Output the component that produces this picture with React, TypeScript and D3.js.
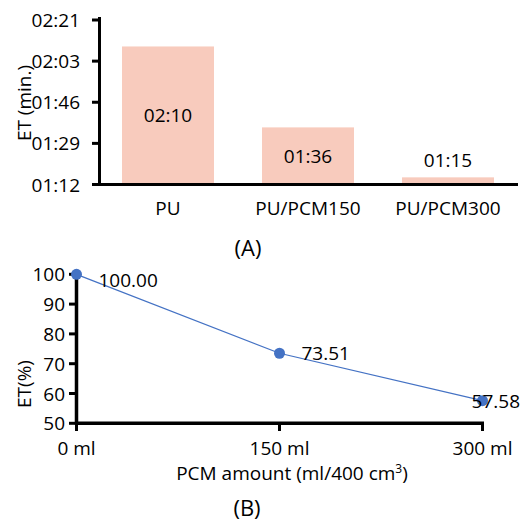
import React from 'react';
import * as d3 from 'd3';

// (A) bar chart: ET in seconds
const categories = ['PU', 'PU/PCM150', 'PU/PCM300'];
const etSeconds = [130, 96, 75];
const topTickLabels = ['01:12', '01:29', '01:46', '02:03', '02:21'];

// (B) line chart: relative ET
const pcmAmounts = [0, 150, 300];
const pcmTickLabels = ['0 ml', '150 ml', '300 ml'];
const etPercent = [100, 73.51, 57.58];
const percentTicks = [50, 60, 70, 80, 90, 100];

const W = 524;
const H = 521;
const FONT = "'Open Sans', sans-serif";
const BAR_COLOR = '#F8CBBD';
const LINE_COLOR = '#4472C4';

const fmtTime = (s: number) => {
    const t = Math.floor(s + 1e-6);
    const m = Math.floor(t / 60);
    const sec = t % 60;
    return `${String(m).padStart(2, '0')}:${String(sec).padStart(2, '0')}`;
};

const App = () => {
    // top chart scales
    const yTop = d3.scaleLinear().domain([72, 141.12]).range([184.5, 20]);
    const topTicks = d3.range(topTickLabels.length).map(i => 72 + i * 17.28);
    const xTop = d3.scaleBand<string>()
        .domain(categories)
        .range([98, 518])
        .paddingInner(0.343)
        .paddingOuter(0.1715);

    // bottom chart scales
    const xBot = d3.scaleLinear().domain([0, 300]).range([76.5, 482.5]);
    const yBot = d3.scaleLinear().domain([50, 100]).range([423.3, 274.3]);
    const line = d3.line<number>()
        .x((_, i) => xBot(pcmAmounts[i]))
        .y(d => yBot(d));

    return (
        <svg width={W} height={H} style={{ position: 'absolute', left: 0, top: 0, background: '#fff' }}
            fontFamily={FONT} fill="#000">
            {/* ---------- (A) ---------- */}
            {etSeconds.map((v, i) => {
                const x = xTop(categories[i])!;
                const bw = xTop.bandwidth();
                const y = yTop(v);
                const h = yTop(72) - y;
                const inside = h > 30;
                return (
                    <g key={categories[i]}>
                        <rect x={x} y={y} width={bw} height={h} fill={BAR_COLOR} />
                        <text x={x + bw / 2} y={inside ? y + h / 2 + 7 : y - 10}
                            textAnchor="middle" fontSize={19}>{fmtTime(v)}</text>
                    </g>
                );
            })}
            {/* y axis */}
            <line x1={99.5} x2={99.5} y1={17} y2={186} stroke="#000" strokeWidth={3} />
            {topTicks.map((t, i) => (
                <g key={i}>
                    <line x1={92} x2={99.5} y1={yTop(t)} y2={yTop(t)} stroke="#000" strokeWidth={3} />
                    <text x={80} y={yTop(t) + 7} textAnchor="end" fontSize={19}>{topTickLabels[i]}</text>
                </g>
            ))}
            {/* x axis */}
            <line x1={92} x2={518} y1={184.5} y2={184.5} stroke="#000" strokeWidth={3} />
            {categories.map(c => (
                <text key={c} x={xTop(c)! + xTop.bandwidth() / 2} y={215} textAnchor="middle" fontSize={19}>{c}</text>
            ))}
            <text transform="translate(31,103) rotate(-90)" textAnchor="middle" fontSize={19}>ET (min.)</text>
            <text x={248} y={256} textAnchor="middle" fontSize={22}>(A)</text>

            {/* ---------- (B) ---------- */}
            <line x1={76.5} x2={76.5} y1={274} y2={425} stroke="#000" strokeWidth={3.5} />
            {percentTicks.map(t => (
                <g key={t}>
                    <line x1={69} x2={76.5} y1={yBot(t)} y2={yBot(t)} stroke="#000" strokeWidth={3} />
                    <text x={65} y={yBot(t) + 7} textAnchor="end" fontSize={19}>{t}</text>
                </g>
            ))}
            <line x1={75} x2={484} y1={423.3} y2={423.3} stroke="#000" strokeWidth={3.5} />
            {pcmAmounts.map((a, i) => (
                <g key={a}>
                    <line x1={xBot(a)} x2={xBot(a)} y1={423.3} y2={431} stroke="#000" strokeWidth={3} />
                    <text x={xBot(a)} y={455} textAnchor="middle" fontSize={19}>{pcmTickLabels[i]}</text>
                </g>
            ))}
            <path d={line(etPercent)!} fill="none" stroke={LINE_COLOR} strokeWidth={1.25} />
            {etPercent.map((v, i) => (
                <circle key={i} cx={xBot(pcmAmounts[i])} cy={yBot(v)} r={5.5} fill={LINE_COLOR} />
            ))}
            {etPercent.map((v, i) => {
                const cx = xBot(pcmAmounts[i]);
                const cy = yBot(v);
                const last = i === etPercent.length - 1;
                const dy = i === 0 ? 13 : 7;
                return (
                    <text key={i} x={last ? 520 : cx + 22} y={cy + dy}
                        textAnchor={last ? 'end' : 'start'} fontSize={19}>{v.toFixed(2)}</text>
                );
            })}
            <text transform="translate(31,384) rotate(-90)" textAnchor="middle" fontSize={19}>ET(%)</text>
            <text x={292} y={480} textAnchor="middle" fontSize={19}>
                PCM amount (ml/400 cm<tspan dy={-7} fontSize={12}>3</tspan><tspan dy={7}>)</tspan>
            </text>
            <text x={247} y={516} textAnchor="middle" fontSize={22}>(B)</text>
        </svg>
    );
};

export default App;
